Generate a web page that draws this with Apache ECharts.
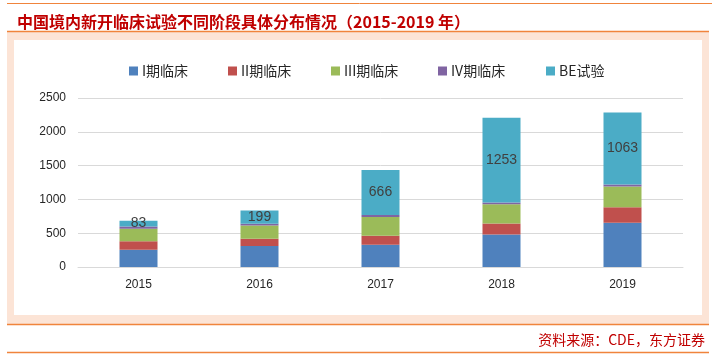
<!DOCTYPE html>
<html><head><meta charset="utf-8">
<script src="https://cdn.jsdelivr.net/npm/echarts@6/dist/echarts.min.js"></script>
<style>html,body{margin:0;padding:0;background:#fff}#c{width:715px;height:356px}</style>
</head><body><div id="c"></div>
<script>
var categories = ['2015','2016','2017','2018','2019'];
var seriesNames = ['I期临床','II期临床','III期临床','IV期临床','BE试验'];
var phase1 = [255, 309, 328, 481, 655];
var phase2 = [125, 109, 134, 164, 228];
var phase3 = [185, 195, 278, 283, 308];
var phase4 = [35, 25, 30, 25, 30];
var beTrial = [83, 199, 666, 1253, 1063];
var yTicks = [0, 500, 1000, 1500, 2000, 2500];
var titleText = '中国境内新开临床试验不同阶段具体分布情况（2015-2019 年）';
var sourceText = '资料来源：CDE，东方证券';

var colors = ['#4f81bd','#c0504d','#9bbb59','#8064a2','#4bacc6'];
var values = [phase1, phase2, phase3, phase4, beTrial];
var legendLeft = [124, 223, 326, 433, 541];
var orange = '#f0843c';
var peach = '#fce4d6';

var chart = echarts.init(document.getElementById('c'), null, {renderer:'canvas'});
var series = seriesNames.map(function(n, i){
  var s = {
    name: n, type: 'bar', stack: 'total', barWidth: 38,
    data: values[i],
    itemStyle: {color: colors[i]},
    emphasis: {disabled: true}
  };
  if (i === 4) {
    s.label = {show: true, position: 'inside', color: '#404040', fontSize: 14,
               fontFamily: 'Liberation Sans, Arial, sans-serif'};
  }
  return s;
});
var legends = seriesNames.map(function(n, i){
  return {
    data: [n], left: legendLeft[i], top: 59, itemWidth: 9, itemHeight: 9,
    itemGap: 0, icon: 'rect',
    textStyle: {fontSize: 14, color: '#262626', fontFamily: 'Noto Sans CJK SC', padding: [0,0,0,-1]}
  };
});
chart.setOption({
  animation: false,
  backgroundColor: '#ffffff',
  title: {
    text: titleText, left: 12, top: 9,
    textStyle: {fontSize: 16, fontWeight: 'bold', color: '#c00000', fontFamily: 'Noto Sans CJK SC'}
  },
  legend: legends,
  grid: {left: 78, right: 32, top: 98, bottom: 89, containLabel: false},
  xAxis: {
    type: 'category', data: categories,
    axisLine: {show: true, lineStyle: {color: '#d9d9d9', width: 1}},
    axisTick: {show: false},
    axisLabel: {fontSize: 12, color: '#262626', margin: 12, fontFamily: 'Liberation Sans, Arial, sans-serif'}
  },
  yAxis: {
    type: 'value', min: yTicks[0], max: yTicks[yTicks.length-1], interval: 500,
    axisLine: {show: false}, axisTick: {show: false},
    splitLine: {lineStyle: {color: '#d9d9d9', width: 1}},
    axisLabel: {fontSize: 12, color: '#262626', margin: 12, fontFamily: 'Liberation Sans, Arial, sans-serif',
                formatter: function(v){ return String(v); }}
  },
  graphic: [
    {type:'rect', z:-10, silent:true, shape:{x:7,y:32,width:702,height:292}, style:{fill:peach}},
    {type:'rect', z:-9, silent:true, shape:{x:14,y:40,width:688,height:275}, style:{fill:'#ffffff'}},
    {type:'line', z:-8, silent:true, shape:{x1:7,y1:3.5,x2:712,y2:3.5}, style:{stroke:orange, lineWidth:1}},
    {type:'line', z:-8, silent:true, shape:{x1:7,y1:31.5,x2:709,y2:31.5}, style:{stroke:orange, lineWidth:1.5}},
    {type:'line', z:-8, silent:true, shape:{x1:7,y1:324.5,x2:709,y2:324.5}, style:{stroke:orange, lineWidth:1.5}},
    {type:'line', z:-8, silent:true, shape:{x1:7,y1:352.5,x2:709,y2:352.5}, style:{stroke:orange, lineWidth:1.5}},
    {type:'text', z:5, silent:true, x:705, y:340,
     style:{text: sourceText, fill:'#c00000', fontSize:14, fontFamily:'Noto Sans CJK SC', align:'right', verticalAlign:'middle'}}
  ],
  series: series
});
</script></body></html>
